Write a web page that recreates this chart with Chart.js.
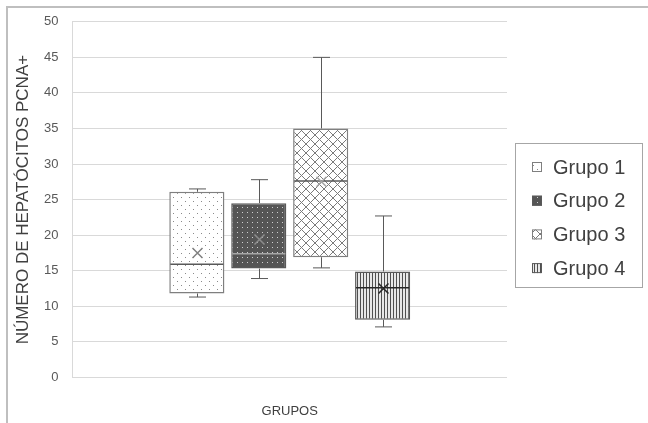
<!DOCTYPE html>
<html>
<head>
<meta charset="utf-8">
<script src="https://cdn.jsdelivr.net/npm/chart.js@4.4.1/dist/chart.umd.min.js"></script>
<style>
  html, body { margin: 0; padding: 0; background: #fff; }
  #wrap { position: relative; width: 648px; height: 423px; }
</style>
</head>
<body>
<div id="wrap"><canvas id="boxChart" width="648" height="423"></canvas></div>
<script>
const groups = ['Grupo 1', 'Grupo 2', 'Grupo 3', 'Grupo 4'];
const minVals = [11.3, 13.9, 15.4, 7.1];
const q1Vals = [11.8, 15.3, 16.9, 8.1];
const medianVals = [15.9, 17.4, 27.6, 12.6];
const q3Vals = [26.1, 24.5, 35.0, 14.9];
const maxVals = [26.5, 27.8, 45.0, 22.7];
const meanVals = [17.5, 19.4, 27.5, 12.5];
const yTicks = [0, 5, 10, 15, 20, 25, 30, 35, 40, 45, 50];

const FONT = "'Liberation Sans', Arial, sans-serif";

function makePattern(w, h, paint) {
  const c = document.createElement('canvas');
  c.width = w;
  c.height = h;
  const g = c.getContext('2d');
  paint(g);
  return c.getContext('2d').createPattern(c, 'repeat');
}

const ctx = document.getElementById('boxChart').getContext('2d');

// fills used by Excel for the four groups
const fills = [
  makePattern(8, 8, g => {
    g.fillStyle = '#fff'; g.fillRect(0, 0, 8, 8);
    g.fillStyle = '#8a8a8a'; g.fillRect(1, 1, 1, 1); g.fillRect(5, 5, 1, 1);
  }),
  makePattern(5, 5, g => {
    g.fillStyle = '#555'; g.fillRect(0, 0, 5, 5);
    g.fillStyle = '#cfcfcf'; g.fillRect(2, 2, 1, 1);
  }),
  makePattern(9, 9, g => {
    g.fillStyle = '#fff'; g.fillRect(0, 0, 9, 9);
    g.strokeStyle = '#7a7a7a'; g.lineWidth = 1;
    g.beginPath();
    g.moveTo(0, 0); g.lineTo(9, 9);
    g.moveTo(9, 0); g.lineTo(0, 9);
    g.stroke();
  }),
  makePattern(3, 1, g => {
    g.fillStyle = '#e8e8e8'; g.fillRect(0, 0, 3, 1);
    g.fillStyle = '#505050'; g.fillRect(0, 0, 1, 1);
  })
];
const borderColors = ['#7f7f7f', '#595959', '#7f7f7f', '#595959'];
const medianColors = ['#595959', '#a6a6a6', '#595959', '#262626'];
const meanColors = ['#808080', '#8c8c8c', '#a6a6a6', '#262626'];

const boxPlotPlugin = {
  id: 'boxPlotParts',
  beforeDraw(chart) {
    const c = chart.ctx;
    c.save();
    c.strokeStyle = '#bfbfbf';
    c.lineWidth = 2;
    c.beginPath();
    c.moveTo(7, chart.height); c.lineTo(7, 7); c.lineTo(chart.width, 7);
    c.stroke();
    c.restore();
  },
  afterDatasetsDraw(chart) {
    const c = chart.ctx;
    const y = chart.scales.y;
    c.save();
    groups.forEach((name, i) => {
      const bar = chart.getDatasetMeta(i).data[0];
      const x = Math.round(bar.x) + 0.5;
      const half = bar.width / 2;
      const cap = 8.5;
      // whiskers
      c.strokeStyle = '#595959';
      c.lineWidth = 1;
      c.beginPath();
      c.moveTo(x, y.getPixelForValue(q3Vals[i]));
      c.lineTo(x, y.getPixelForValue(maxVals[i]));
      c.moveTo(x - cap, y.getPixelForValue(maxVals[i]));
      c.lineTo(x + cap, y.getPixelForValue(maxVals[i]));
      c.moveTo(x, y.getPixelForValue(q1Vals[i]));
      c.lineTo(x, y.getPixelForValue(minVals[i]));
      c.moveTo(x - cap, y.getPixelForValue(minVals[i]));
      c.lineTo(x + cap, y.getPixelForValue(minVals[i]));
      c.stroke();
      // median
      c.strokeStyle = medianColors[i];
      c.lineWidth = 1.5;
      c.beginPath();
      c.moveTo(bar.x - half + 1, y.getPixelForValue(medianVals[i]));
      c.lineTo(bar.x + half - 1, y.getPixelForValue(medianVals[i]));
      c.stroke();
      // mean marker
      const my = y.getPixelForValue(meanVals[i]);
      c.strokeStyle = meanColors[i];
      c.lineWidth = 1.5;
      c.beginPath();
      c.moveTo(x - 5, my - 5); c.lineTo(x + 5, my + 5);
      c.moveTo(x + 5, my - 5); c.lineTo(x - 5, my + 5);
      c.stroke();
    });
    c.restore();
  },
  afterDraw(chart) {
    // legend drawn by hand so it can sit where Excel put it
    const c = chart.ctx;
    c.save();
    c.strokeStyle = '#a6a6a6';
    c.lineWidth = 1;
    c.strokeRect(515.5, 143.5, 127, 144);
    c.font = '20px ' + FONT;
    c.textBaseline = 'middle';
    c.fillStyle = '#404040';
    groups.forEach((name, i) => {
      const cy = 167 + i * 33.7;
      c.fillStyle = fills[i];
      c.fillRect(532, cy - 5, 10, 10);
      c.strokeStyle = borderColors[i];
      c.strokeRect(532.5, cy - 4.5, 9, 9);
      c.fillStyle = '#404040';
      c.fillText(name, 553, cy + 1);
    });
    c.restore();
  }
};

const boxChart = new Chart(ctx, {
  type: 'bar',
  data: {
    labels: [''],
    datasets: groups.map((name, i) => ({
      label: name,
      data: [[q1Vals[i], q3Vals[i]]],
      backgroundColor: fills[i],
      borderColor: borderColors[i],
      borderWidth: 1.5,
      borderSkipped: false,
      categoryPercentage: 0.57,
      barPercentage: 0.89
    }))
  },
  options: {
    responsive: false,
    animation: false,
    layout: {
      padding: { left: 13, right: 141, top: 19, bottom: 4 }
    },
    plugins: {
      legend: { display: false },
      tooltip: { enabled: false }
    },
    scales: {
      x: {
        grid: { display: false },
        border: { display: false },
        ticks: { display: false },
        title: {
          display: true,
          text: 'GRUPOS',
          color: '#404040',
          font: { family: FONT, size: 13 },
          padding: { top: 18, bottom: 0 }
        }
      },
      y: {
        min: 0,
        max: 50,
        afterBuildTicks(axis) {
          axis.ticks = yTicks.map(v => ({ value: v }));
        },
        grid: { color: '#d9d9d9', drawTicks: false },
        border: { color: '#d9d9d9' },
        ticks: {
          color: '#595959',
          padding: 14,
          font: { family: FONT, size: 13 }
        },
        title: {
          display: true,
          text: 'NÚMERO DE HEPATÓCITOS PCNA+',
          color: '#404040',
          font: { family: FONT, size: 17 },
          padding: { top: 0, bottom: -3.4 }
        }
      }
    }
  },
  plugins: [boxPlotPlugin]
});
</script>
</body>
</html>
